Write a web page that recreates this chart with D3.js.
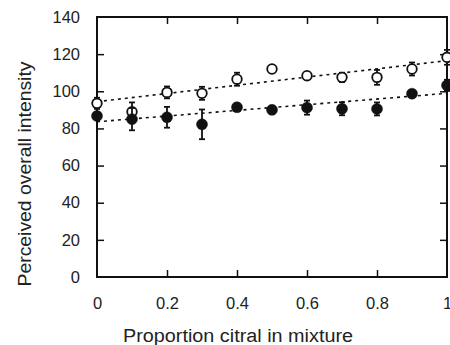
<!DOCTYPE html>
<html>
<head>
<meta charset="utf-8">
<script src="https://cdn.jsdelivr.net/npm/d3@7"></script>
<style>
  body { margin: 0; background: #fff; }
  svg { display: block; font-family: "Liberation Sans", Arial, sans-serif; }
</style>
</head>
<body>
<svg id="chart" width="450" height="345"></svg>
<script>
// values
const proportion = [0, 0.1, 0.2, 0.3, 0.4, 0.5, 0.6, 0.7, 0.8, 0.9, 1];
const openMean = [93.5, 89, 99.4, 98.9, 106.5, 112, 108.4, 107.5, 107.5, 112, 118.3];
const openErr = [3, 5, 3.2, 3.5, 3.5, 2, 2, 2.5, 4, 3.5, 4];
const filledMean = [86.7, 85, 86, 82.2, 91.4, 90, 91.2, 90.6, 90.5, 98.7, 103.2];
const filledErr = [2, 6, 5.6, 8, 2, 2, 3.8, 3.5, 3.5, 2, 3];
// dashed trend lines, end values at x = 0 and x = 1
const trendX = [0, 1];
const openTrend = [94.4, 116.5];
const filledTrend = [83.6, 98.9];
const xTicks = [0, 0.2, 0.4, 0.6, 0.8, 1];
const yTicks = [0, 20, 40, 60, 80, 100, 120, 140];

const margin = { top: 17, right: 3, bottom: 68, left: 97 };
const width = 450 - margin.left - margin.right;
const height = 345 - margin.top - margin.bottom;
const ink = '#111';

const svg = d3.select('#chart');
const g = svg.append('g')
    .attr('transform', `translate(${margin.left},${margin.top})`);

const x = d3.scaleLinear().domain([0, 1]).range([0, width]);
const y = d3.scaleLinear().domain([0, 140]).range([height, 0]);

// axes: ticks pointing inward, mirrored on top and right
const tickLen = 7;

g.append('g')
    .attr('transform', `translate(0,${height})`)
    .call(d3.axisBottom(x).tickValues(xTicks).tickSize(-tickLen).tickPadding(tickLen + 13)
      .tickFormat(d => d === 0 || d === 1 ? d3.format('d')(d) : d3.format('.1f')(d)))
    .call(a => a.select('.domain').remove())
    .call(a => a.selectAll('.tick line').attr('stroke', ink).attr('stroke-width', 1.5)
      .filter(d => d === 0 || d === 1).remove())
    .call(a => a.selectAll('text').attr('fill', '#222').attr('font-size', 16.5));

g.append('g')
    .call(d3.axisTop(x).tickValues(xTicks.slice(1, -1)).tickSize(-tickLen).tickFormat(''))
    .call(a => a.select('.domain').remove())
    .call(a => a.selectAll('.tick line').attr('stroke', ink).attr('stroke-width', 1.5));

g.append('g')
    .call(d3.axisLeft(y).tickValues(yTicks).tickSize(-tickLen).tickPadding(tickLen + 10))
    .call(a => a.select('.domain').remove())
    .call(a => a.selectAll('.tick line').attr('stroke', ink).attr('stroke-width', 1.5)
      .filter(d => d === 0 || d === 140).remove())
    .call(a => a.selectAll('text').attr('fill', '#222').attr('font-size', 16.5));

g.append('g')
    .attr('transform', `translate(${width},0)`)
    .call(d3.axisRight(y).tickValues(yTicks.slice(1, -1)).tickSize(-tickLen).tickFormat(''))
    .call(a => a.select('.domain').remove())
    .call(a => a.selectAll('.tick line').attr('stroke', ink).attr('stroke-width', 1.5));

// frame
g.append('rect')
    .attr('width', width)
    .attr('height', height)
    .attr('fill', 'none')
    .attr('stroke', ink)
    .attr('stroke-width', 2);

// trend lines
const line = d3.line()
    .x(d => x(d[0]))
    .y(d => y(d[1]));

[openTrend, filledTrend].forEach(t => {
  g.append('path')
      .datum(d3.zip(trendX, t))
      .attr('d', line)
      .attr('fill', 'none')
      .attr('stroke', ink)
      .attr('stroke-width', 1.6)
      .attr('stroke-dasharray', '3,4');
});

// points with error bars
function series(mean, err, filled) {
  const data = d3.zip(proportion, mean, err);
  const s = g.append('g');
  const cap = 3;
  const bars = s.selectAll('.err')
    .data(data)
    .join('g')
      .attr('stroke', ink)
      .attr('stroke-width', 1.8);
  bars.append('line')
      .attr('x1', d => x(d[0])).attr('x2', d => x(d[0]))
      .attr('y1', d => y(d[1] - d[2])).attr('y2', d => y(d[1] + d[2]));
  bars.append('line')
      .attr('x1', d => x(d[0]) - cap).attr('x2', d => x(d[0]) + cap)
      .attr('y1', d => y(d[1] + d[2])).attr('y2', d => y(d[1] + d[2]));
  bars.append('line')
      .attr('x1', d => x(d[0]) - cap).attr('x2', d => x(d[0]) + cap)
      .attr('y1', d => y(d[1] - d[2])).attr('y2', d => y(d[1] - d[2]));
  s.selectAll('circle')
    .data(data)
    .join('circle')
      .attr('cx', d => x(d[0]))
      .attr('cy', d => y(d[1]))
      .attr('r', filled ? 5.5 : 4.8)
      .attr('fill', filled ? ink : '#fff')
      .attr('stroke', ink)
      .attr('stroke-width', filled ? 0.5 : 1.8);
}

series(openMean, openErr, false);
series(filledMean, filledErr, true);

// axis titles
svg.append('text')
    .attr('x', 238)
    .attr('y', 342)
    .attr('text-anchor', 'middle')
    .attr('fill', '#222')
    .attr('font-size', 18)
    .attr('textLength', 230)
    .attr('lengthAdjust', 'spacingAndGlyphs')
    .text('Proportion citral in mixture');

svg.append('text')
    .attr('transform', 'translate(31,174) rotate(-90)')
    .attr('text-anchor', 'middle')
    .attr('fill', '#222')
    .attr('font-size', 18)
    .attr('textLength', 225)
    .attr('lengthAdjust', 'spacingAndGlyphs')
    .text('Perceived overall intensity');
</script>
</body>
</html>
